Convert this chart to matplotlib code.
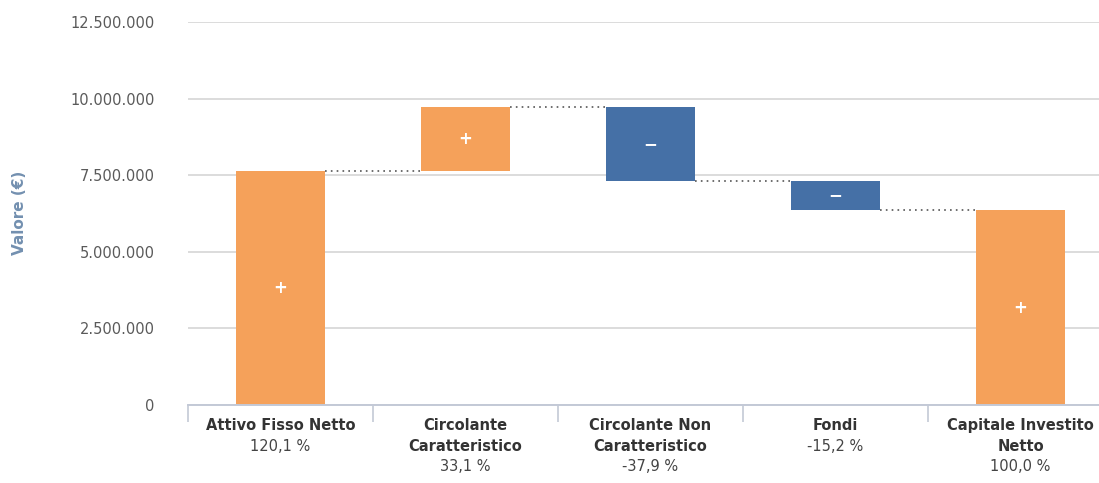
import matplotlib
matplotlib.use("Agg")
import matplotlib.pyplot as plt
from matplotlib.ticker import FuncFormatter, FixedLocator
import matplotlib.transforms as mtransforms

categories = ["Attivo Fisso Netto", "Circolante\nCaratteristico", "Circolante Non\nCaratteristico",
              "Fondi", "Capitale Investito\nNetto"]
percent_labels = ["120,1 %", "33,1 %", "-37,9 %", "-15,2 %", "100,0 %"]
values = [7626000, 2102000, -2407000, -965000, 6356000]
is_total = [False, False, False, False, True]
signs = ["+", "+", "−", "−", "+"]

ORANGE = "#F5A15A"
BLUE = "#4570A6"

fig = plt.figure(figsize=(10.99, 4.83), dpi=100)
ax = fig.add_axes([188 / 1099, 78 / 483, (1099 - 188) / 1099, (405 - 22) / 483])

running = 0
bottoms, heights, tops = [], [], []
for v, tot in zip(values, is_total):
    if tot:
        b, h = 0, v
        running = v
    else:
        if v >= 0:
            b, h = running, v
        else:
            b, h = running + v, -v
        running += v
    bottoms.append(b)
    heights.append(h)
    tops.append(running)

width = 0.48
colors = [ORANGE if v >= 0 else BLUE for v in values]
ax.bar(range(len(values)), heights, bottom=bottoms, width=width, color=colors, zorder=3)

for i in range(len(values)):
    ax.text(i, bottoms[i] + heights[i] / 2, signs[i], color="white", ha="center", va="center",
            fontsize=12, fontweight="bold", zorder=4)

# connectors
for i in range(len(values) - 1):
    lvl = tops[i]
    ax.plot([i + width / 2, i + 1 - width / 2], [lvl, lvl], linestyle=(0, (1, 2.5)),
            color="#555555", linewidth=1.2, zorder=2)

ax.set_ylim(0, 12500000)
ax.set_xlim(-0.5, 4.5 - 14 / 185)
ax.set_yticks([0, 2500000, 5000000, 7500000, 10000000, 12500000])
ax.yaxis.set_major_formatter(FuncFormatter(lambda v, p: f"{int(v):,}".replace(",", ".")))
ax.grid(axis="y", color="#dcdcdc", linewidth=1.4, zorder=0)
for s in ["left", "right", "top"]:
    ax.spines[s].set_visible(False)
ax.spines["bottom"].set_color("#c3c9d6")
ax.spines["bottom"].set_linewidth(1.4)
ax.spines["bottom"].set_zorder(5)
ax.tick_params(axis="y", length=0, pad=24, labelsize=10.5, labelcolor="#5a5a5a")
ax.set_xticks([])
ax.xaxis.set_minor_locator(FixedLocator([-0.5, 0.5, 1.5, 2.5, 3.5]))
ax.tick_params(axis="x", which="minor", length=12, color="#c3c9d6", width=1.2)

trans = mtransforms.blended_transform_factory(ax.transData, ax.transAxes)
for i, (c, p) in enumerate(zip(categories, percent_labels)):
    nlines = c.count("\n") + 1
    ax.text(i, -0.035, c, transform=trans, ha="center", va="top", fontsize=10.5,
            fontweight="bold", color="#333333", linespacing=1.45)
    off = -0.035 - nlines * 0.0525
    ax.text(i, off, p, transform=trans, ha="center", va="top", fontsize=10.5,
            color="#444444")

fig.text(20 / 1099, (483 - 213) / 483, "Valore (€)", rotation=90, ha="center", va="center",
         fontsize=11, fontweight="bold", color="#7390b0")

fig.savefig("out.png", dpi=100)
